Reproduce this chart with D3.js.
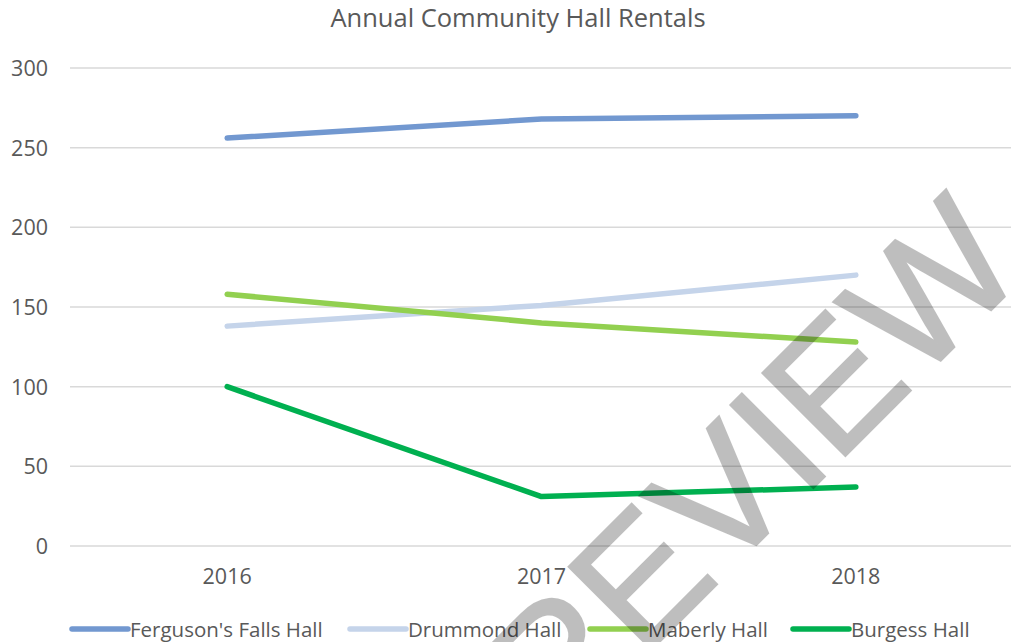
<!DOCTYPE html>
<html>
<head>
<meta charset="utf-8">
<script src="https://cdn.jsdelivr.net/npm/d3@7"></script>
<style>
	html, body { margin: 0; padding: 0; background: #fff; }
	svg { display: block; }
	.lbl { font-family: "Open Sans", sans-serif; fill: #595959; }
</style>
</head>
<body>
<div id="chart"></div>
<script>
var years = ['2016', '2017', '2018'];
var yTicks = [0, 50, 100, 150, 200, 250, 300];
var seriesNames = ["Ferguson's Falls Hall", 'Drummond Hall', 'Maberly Hall', 'Burgess Hall'];
var seriesColors = ['#7298D0', '#C5D4EA', '#92D050', '#00B050'];
var ferguson = [256, 268, 270];
var drummond = [138, 151, 170];
var maberly = [158, 140, 128];
var burgess = [100, 31, 37];
var seriesValues = [ferguson, drummond, maberly, burgess];

var W = 1011, H = 642;
var plot = { left: 70, right: 1013, top: 68, bottom: 546 };

var svg = d3.select('#chart').append('svg')
	.attr('width', W)
	.attr('height', H);

var x = d3.scaleBand().domain(years).range([plot.left, plot.right]);
var y = d3.scaleLinear().domain([0, 300]).range([plot.bottom, plot.top]);

// title
svg.append('text')
	.attr('class', 'lbl')
	.attr('x', 518)
	.attr('y', 27)
	.attr('text-anchor', 'middle')
	.style('font-size', '25.5px')
	.text('Annual Community Hall Rentals');

// gridlines
svg.append('g')
	.selectAll('line')
	.data(yTicks)
	.join('line')
	.attr('x1', plot.left)
	.attr('x2', W)
	.attr('y1', function (d) { return y(d); })
	.attr('y2', function (d) { return y(d); })
	.style('stroke', '#D9D9D9')
	.style('stroke-width', 1.5);

// y labels
svg.append('g')
	.selectAll('text')
	.data(yTicks)
	.join('text')
	.attr('class', 'lbl')
	.attr('x', 48)
	.attr('y', function (d) { return y(d) + 8; })
	.attr('text-anchor', 'end')
	.style('font-size', '21.5px')
	.text(function (d) { return d; });

// x labels
svg.append('g')
	.selectAll('text')
	.data(years)
	.join('text')
	.attr('class', 'lbl')
	.attr('x', function (d) { return x(d) + x.bandwidth() / 2; })
	.attr('y', 584)
	.attr('text-anchor', 'middle')
	.style('font-size', '21.5px')
	.text(function (d) { return d; });

// lines
var line = d3.line()
	.x(function (d, i) { return x(years[i]) + x.bandwidth() / 2; })
	.y(function (d) { return y(d); });

svg.append('g')
	.selectAll('path')
	.data(seriesValues)
	.join('path')
	.attr('d', line)
	.style('fill', 'none')
	.style('stroke', function (d, i) { return seriesColors[i]; })
	.style('stroke-width', 5.5)
	.style('stroke-linecap', 'round')
	.style('stroke-linejoin', 'round');

// legend
var legendX = [72, 350, 590, 793];
var lg = svg.append('g')
	.selectAll('g')
	.data(seriesNames)
	.join('g')
	.attr('transform', function (d, i) { return 'translate(' + legendX[i] + ',629)'; });
lg.append('line')
	.attr('x1', 0)
	.attr('x2', 56)
	.style('stroke', function (d, i) { return seriesColors[i]; })
	.style('stroke-width', 5.5)
	.style('stroke-linecap', 'round');
lg.append('text')
	.attr('class', 'lbl')
	.attr('x', 58)
	.attr('y', 8)
	.style('font-size', '20.5px')
	.text(function (d) { return d; });

// watermark
svg.append('text')
	.attr('transform', 'translate(752,549) rotate(-45)')
	.attr('text-anchor', 'middle')
	.style('font-family', '"Liberation Sans", Arial, sans-serif')
	.style('font-size', '170px')
	.style('fill', '#000')
	.style('stroke', '#000')
	.style('stroke-width', 2.5)
	.style('stroke-linejoin', 'miter')
	.style('opacity', 0.25)
	.text('PREVIEW');
</script>
</body>
</html>
